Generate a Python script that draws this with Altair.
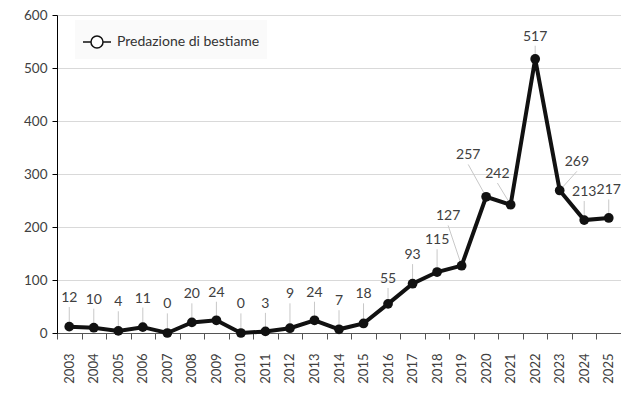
import altair as alt
import pandas as pd

years = list(range(2003, 2026))
values = [12, 10, 4, 11, 0, 20, 24, 0, 3, 9, 24, 7, 18, 55, 93, 115, 127, 257, 242, 517, 269, 213, 217]
# label placement relative to each point (value units up, years sideways)
label_rise = [54, 53, 54, 54, 54, 53, 52, 54, 52, 64, 52, 53, 55, 47, 54, 60, 93, 78, 58, 42, 53, 53, 52]
label_shift = [0] * 16 + [-0.55, -0.73, -0.54, 0, 0.70, 0, 0]
series_name = "Predazione di bestiame"
y_ticks = [0, 100, 200, 300, 400, 500, 600]

df = pd.DataFrame({"year": years, "value": values, "series": series_name})
df["year_label"] = df["year"].astype(str)
df["label_x"] = df["year"] + pd.Series(label_shift)
df["label_y"] = df["value"] + pd.Series(label_rise)
df["lead_y"] = df["label_y"] - 17

FONT = "Lato"
TEXT = "#404040"

xq = alt.Scale(domain=[years[0] - 0.5, years[-1] + 0.5], nice=False, zero=False)
y_scale = alt.Scale(domain=[0, 600], nice=False)

x_axis = alt.Axis(
    tickBand="extent",
    labelAngle=-90,
    labelAlign="right",
    labelBaseline="middle",
    labelFont=FONT,
    labelFontSize=13,
    labelColor=TEXT,
    labelPadding=14,
    labelOverlap=False,
    tickSize=6,
    tickColor="#555555",
    domainColor="#555555",
    grid=False,
    title=None,
)
y_axis = alt.Axis(
    values=y_ticks,
    labelFont=FONT,
    labelFontSize=13.5,
    labelColor=TEXT,
    labelPadding=5,
    tickSize=5,
    tickColor="#000000",
    domainColor="#000000",
    gridColor="#d9d9d9",
    title=None,
)

base = alt.Chart(df)

# carrier layer for the category axis (band scale, ticks between categories)
axis_layer = base.mark_point(opacity=0).encode(
    x=alt.X("year_label:O", scale=alt.Scale(type="band", paddingInner=0, paddingOuter=0), axis=x_axis),
    y=alt.Y("value:Q", scale=y_scale, axis=y_axis),
)

leaders = base.mark_rule(color="#c8c8c8", strokeWidth=1).encode(
    x=alt.X("label_x:Q", scale=xq, axis=None),
    y=alt.Y("lead_y:Q", scale=y_scale),
    x2="year:Q",
    y2="value:Q",
)

legend_symbol = (
    "M-1,0L-0.43,0M0.43,0L1,0"
    "M0.43,0A0.43,0.43,0,1,1,-0.43,0A0.43,0.43,0,1,1,0.43,0Z"
)

line = base.mark_line(strokeWidth=4, color="#111111").encode(
    x=alt.X("year:Q", scale=xq, axis=None),
    y=alt.Y("value:Q", scale=y_scale),
    color=alt.Color(
        "series:N",
        scale=alt.Scale(range=["#111111"]),
        legend=alt.Legend(
            title=None,
            orient="none",
            legendX=18,
            legendY=5,
            symbolType=legend_symbol,
            symbolSize=784,
            symbolFillColor="#ffffff",
            symbolStrokeColor="#111111",
            symbolStrokeWidth=1.5,
            labelFont=FONT,
            labelFontSize=14,
            labelColor="#333333",
            labelOffset=5,
            padding=7,
            fillColor="#fafafa",
        ),
    ),
)

points = base.mark_circle(size=95, color="#111111", opacity=1).encode(
    x=alt.X("year:Q", scale=xq, axis=None),
    y=alt.Y("value:Q", scale=y_scale),
)

labels = base.mark_text(
    font=FONT, fontSize=14, color=TEXT, baseline="middle", align="center"
).encode(
    x=alt.X("label_x:Q", scale=xq, axis=None),
    y=alt.Y("label_y:Q", scale=y_scale),
    text="value:Q",
)

data_layers = alt.layer(leaders, line, points, labels)

chart = (
    alt.layer(axis_layer, data_layers)
    .resolve_scale(x="independent")
    .properties(
        width=564,
        height=318,
        padding={"left": 49, "top": 7, "right": 0, "bottom": 60},
        autosize="none",
        background="#ffffff",
    )
    .configure_view(stroke=None)
)

chart.save("out.html", embed_options={"renderer": "svg", "actions": False})
